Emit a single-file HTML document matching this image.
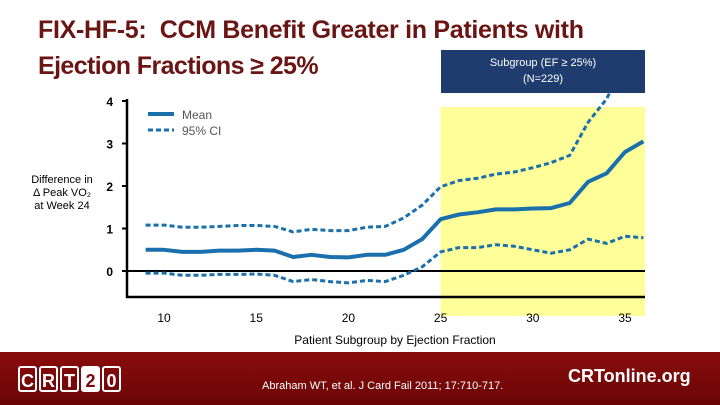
<!DOCTYPE html>
<html><head><meta charset="utf-8"><style>
body{margin:0;width:720px;height:405px;overflow:hidden;background:#fff;font-family:"Liberation Sans",sans-serif;position:relative}
.t{position:absolute;left:38px;font-family:"Liberation Sans",sans-serif;font-weight:bold;font-size:25px;color:#6b1414;letter-spacing:-0.3px}
.lb{display:inline-block;width:19px;height:26px;border:2px solid #fff;border-radius:3px;margin-right:2px;text-align:center;line-height:26px;box-sizing:border-box}
</style></head><body>
<div class="t" style="top:16px">FIX-HF-5:&nbsp; CCM Benefit Greater in Patients with</div>
<div class="t" style="top:52px;letter-spacing:-0.6px">Ejection Fractions ≥ 25%</div>
<div style="position:absolute;left:441px;top:50px;width:204px;height:43px;background:#1f3c6e;color:#fff;font-size:11px;text-align:center;line-height:16px;padding-top:5px;box-sizing:border-box">Subgroup (EF ≥ 25%)<br>(N=229)</div>
<svg id="c" width="720" height="405" style="position:absolute;left:0;top:0"></svg>
<div style="position:absolute;left:0;top:352px;width:720px;height:53px;background:linear-gradient(#8a0c0c,#6a0606)">
 <div style="position:absolute;left:18px;top:14px;font:bold 18px 'Liberation Sans',sans-serif;color:#fff"><span class="lb">C</span><span class="lb">R</span><span class="lb">T</span><span class="lb" style="background:#fff;color:#7a0a0a">2</span><span class="lb">0</span></div>
 <div style="position:absolute;left:262px;top:28px;font-size:11px;color:#fff">Abraham WT, et al. J Card Fail 2011; 17:710-717.</div>
 <div style="position:absolute;left:568px;top:14px;font:bold 18px 'Liberation Sans',sans-serif;color:#fff">CRTonline.org</div>
</div>
<script>
const xs=[9,10,11,12,13,14,15,16,17,18,19,20,21,22,23,24,25,26,27,28,29,30,31,32,33,34,35,36];
const meanVals=[0.5,0.5,0.45,0.45,0.48,0.48,0.5,0.48,0.33,0.38,0.33,0.32,0.38,0.38,0.5,0.75,1.22,1.33,1.38,1.45,1.45,1.47,1.48,1.6,2.1,2.3,2.8,3.05];
const upperVals=[1.08,1.08,1.03,1.03,1.05,1.07,1.07,1.05,0.92,0.98,0.95,0.95,1.03,1.05,1.25,1.55,1.98,2.13,2.18,2.28,2.33,2.43,2.55,2.72,3.5,4.05,4.9,5.7];
const lowerVals=[-0.05,-0.05,-0.1,-0.1,-0.08,-0.08,-0.07,-0.1,-0.25,-0.2,-0.25,-0.28,-0.22,-0.25,-0.1,0.1,0.45,0.55,0.55,0.62,0.58,0.5,0.42,0.5,0.75,0.65,0.82,0.78];
const xTicks=[10,15,20,25,30,35];
const yTicks=[0,1,2,3,4];
const X=v=>164+(v-10)*18.44, Y=v=>271-v*42.5;
const s=document.getElementById('c'),N='http://www.w3.org/2000/svg';
function mk(t,a,txt){const e=document.createElementNS(N,t);for(const k in a)e.setAttribute(k,a[k]);if(txt!=null)e.textContent=txt;s.appendChild(e);return e;}
const defs=mk('defs',{});const cp=document.createElementNS(N,'clipPath');cp.setAttribute('id','cl');const r=document.createElementNS(N,'rect');r.setAttribute('x',127);r.setAttribute('y',93);r.setAttribute('width',518);r.setAttribute('height',204);cp.appendChild(r);defs.appendChild(cp);
let e=mk('rect',{x:X(25),y:107,width:645-X(25),height:209,fill:'#ffff99'});


e=mk('path',{d:'M127,99V297H645',fill:'none',stroke:'#000','stroke-width':2.5});


e=mk('line',{x1:127,x2:645,y1:Y(0),y2:Y(0),stroke:'#000','stroke-width':2});


yTicks.forEach(v=>{mk('line',{x1:122,x2:127,y1:Y(v),y2:Y(v),stroke:'#000','stroke-width':2});
e=mk('text',{x:113,y:Y(v)+5,'font-size':12,'font-weight':'bold','text-anchor':'end','font-family':'Liberation Sans'},v);

});
xTicks.forEach(v=>{e=mk('text',{x:X(v),y:322,'font-size':12,'text-anchor':'middle','font-family':'Liberation Sans'},v);

});
function line(vals,dash,w,name){const d=vals.map((v,i)=>(i?'L':'M')+X(xs[i]).toFixed(1)+','+Y(v).toFixed(1)).join('');
const p=mk('path',{d:d,fill:'none',stroke:'#1a6fad','stroke-width':w,'stroke-dasharray':dash,'clip-path':'url(#cl)','stroke-linejoin':'round'});

}
line(upperVals,'5,3',3,'upper-ci-line');line(lowerVals,'5,3',3,'lower-ci-line');line(meanVals,'none',4,'mean-line');
e=mk('line',{x1:148,x2:174,y1:114,y2:114,stroke:'#1a6fad','stroke-width':4});


e=mk('text',{x:182,y:119,'font-size':12,fill:'#555','font-family':'Liberation Sans'},'Mean');


e=mk('line',{x1:148,x2:174,y1:130,y2:130,stroke:'#1a6fad','stroke-width':3,'stroke-dasharray':'5,3'});


e=mk('text',{x:182,y:135,'font-size':12,fill:'#555','font-family':'Liberation Sans'},'95% CI');


const yl=['Difference in','Δ Peak VO₂','at Week 24'];
yl.forEach((t,i)=>{e=mk('text',{x:62,y:183+i*13,'font-size':11,'text-anchor':'middle','font-family':'Liberation Sans'},t);

});
e=mk('text',{x:395,y:344,'font-size':12,'text-anchor':'middle','font-family':'Liberation Sans'},'Patient Subgroup by Ejection Fraction');


</script>
</body></html>
